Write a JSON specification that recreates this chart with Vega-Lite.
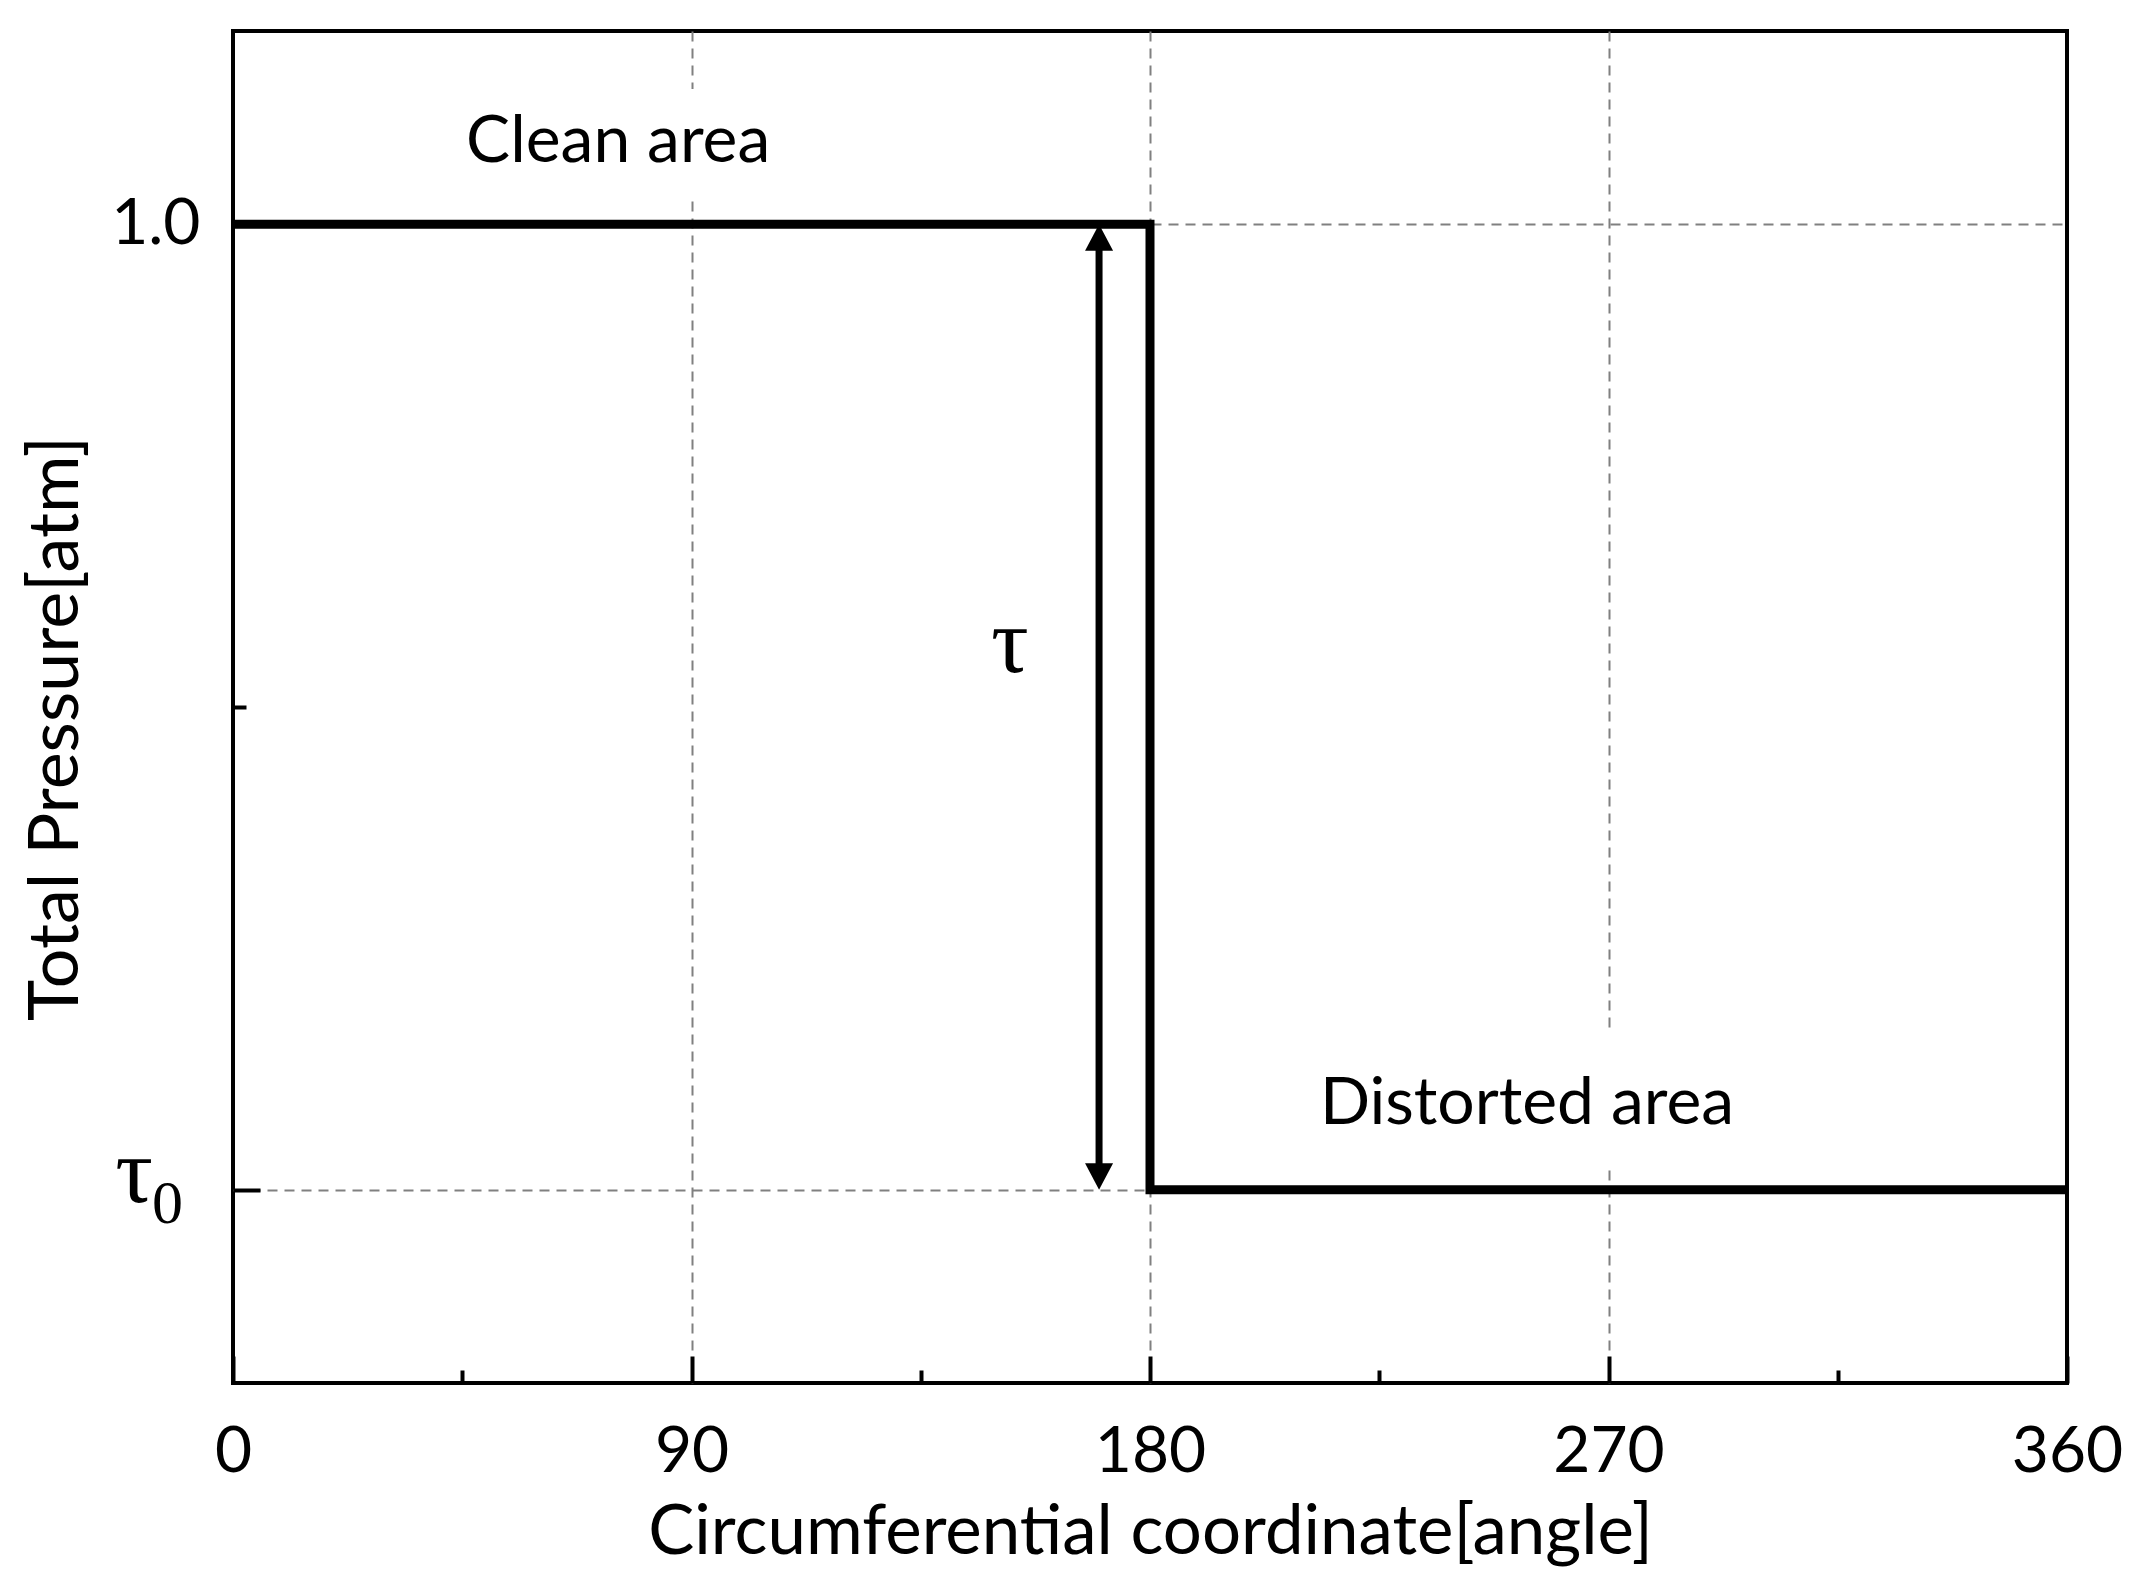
{
  "$schema": "https://vega.github.io/schema/vega-lite/v6.json",
  "width": 1834,
  "height": 1352,
  "autosize": {"type": "none"},
  "padding": {"left": 233, "top": 31, "right": 79, "bottom": 197},
  "background": "white",
  "config": {
    "font": "Lato",
    "view": {"stroke": "black", "strokeWidth": 4}
  },
  "datasets": {
    "profile": [
      {"angle": 0, "pressure": 1.0, "i": 0},
      {"angle": 180, "pressure": 1.0, "i": 1},
      {"angle": 180, "pressure": 0.5, "i": 2},
      {"angle": 360, "pressure": 0.5, "i": 3}
    ],
    "boxes": [
      {"a1": 45, "a2": 152, "p1": 1.012, "p2": 1.07},
      {"a1": 213, "a2": 295, "p1": 0.512, "p2": 0.582}
    ],
    "labels": [
      {"angle": 75.6, "pressure": 1.032, "text": "Clean area"},
      {"angle": 254, "pressure": 0.534, "text": "Distorted area"}
    ],
    "arrow": [{"angle": 170, "top": 1.0, "bottom": 0.5, "s1": 0.988, "s2": 0.512}],
    "tau": [{"angle": 152.5, "pressure": 0.768, "text": "τ"}],
    "tau0": [{"angle": 0, "pressure": 0.5, "t": "τ", "sub": "0"}]
  },
  "layer": [
    {
      "data": {"name": "boxes"},
      "mark": {"type": "rect", "color": "white"},
      "encoding": {
        "x": {
          "field": "a1", "type": "quantitative",
          "scale": {"domain": [0, 360], "nice": false, "zero": false},
          "axis": {
            "values": [0, 45, 90, 135, 180, 225, 270, 315, 360],
            "labelExpr": "datum.value % 90 == 0 ? datum.label : ''",
            "domain": false,
            "tickColor": "black",
            "tickWidth": 4,
            "tickSize": {"condition": {"test": "datum.value % 90 == 0", "value": -27}, "value": -13},
            "grid": true,
            "gridColor": "#808080",
            "gridWidth": 2,
            "gridDash": [10, 7],
            "gridOpacity": {"condition": {"test": "datum.value % 90 == 0 && datum.value > 0 && datum.value < 360", "value": 1}, "value": 0},
            "labelFontSize": 64,
            "labelColor": "black",
            "labelPadding": 64,
            "labelFlush": false,
            "labelOverlap": false,
            "title": "Circumferential coordinate[angle]",
            "titleFontSize": 69,
            "titleFontWeight": "normal",
            "titleColor": "black",
            "titlePadding": 0
          }
        },
        "x2": {"field": "a2"},
        "y": {
          "field": "p1", "type": "quantitative",
          "scale": {"domain": [0.4, 1.1], "nice": false, "zero": false},
          "axis": {
            "values": [0.5, 0.75, 1.0],
            "labelExpr": "datum.value == 1 ? '1.0' : ''",
            "domain": false,
            "tickColor": "black",
            "tickWidth": 4,
            "tickSize": {"condition": {"test": "datum.value == 0.75", "value": -13}, "value": -27},
            "grid": true,
            "gridColor": "#808080",
            "gridWidth": 2,
            "gridDash": [10, 7],
            "gridOpacity": {"condition": {"test": "datum.value == 0.75", "value": 0}, "value": 1},
            "labelFontSize": 64,
            "labelColor": "black",
            "labelPadding": 60,
            "labelOverlap": false,
            "title": "Total Pressure[atm]",
            "titleFontSize": 70,
            "titleFontWeight": "normal",
            "titleColor": "black",
            "titlePadding": 18,
            "titleY": 697
          }
        },
        "y2": {"field": "p2"}
      }
    },
    {
      "data": {"name": "profile"},
      "mark": {"type": "line", "color": "black", "strokeWidth": 9, "strokeJoin": "miter", "clip": true},
      "encoding": {
        "x": {"field": "angle", "type": "quantitative"},
        "y": {"field": "pressure", "type": "quantitative"},
        "order": {"field": "i", "type": "quantitative"}
      }
    },
    {
      "data": {"name": "arrow"},
      "mark": {"type": "rule", "color": "black", "strokeWidth": 7},
      "encoding": {
        "x": {"field": "angle", "type": "quantitative"},
        "y": {"field": "s1", "type": "quantitative"},
        "y2": {"field": "s2"}
      }
    },
    {
      "data": {"name": "arrow"},
      "mark": {"type": "point", "shape": "M0,0L-1,1.9L1,1.9Z", "filled": true, "color": "black", "opacity": 1, "size": 784, "strokeWidth": 0},
      "encoding": {
        "x": {"field": "angle", "type": "quantitative"},
        "y": {"field": "top", "type": "quantitative"}
      }
    },
    {
      "data": {"name": "arrow"},
      "mark": {"type": "point", "shape": "M0,0L-1,-1.9L1,-1.9Z", "filled": true, "color": "black", "opacity": 1, "size": 784, "strokeWidth": 0},
      "encoding": {
        "x": {"field": "angle", "type": "quantitative"},
        "y": {"field": "bottom", "type": "quantitative"}
      }
    },
    {
      "data": {"name": "labels"},
      "mark": {"type": "text", "font": "Lato", "fontSize": 66, "color": "black", "align": "center", "baseline": "alphabetic"},
      "encoding": {
        "x": {"field": "angle", "type": "quantitative"},
        "y": {"field": "pressure", "type": "quantitative"},
        "text": {"field": "text"}
      }
    },
    {
      "data": {"name": "tau"},
      "mark": {"type": "text", "font": "Liberation Serif", "fontSize": 94, "color": "black", "align": "center", "baseline": "alphabetic"},
      "encoding": {
        "x": {"field": "angle", "type": "quantitative"},
        "y": {"field": "pressure", "type": "quantitative"},
        "text": {"field": "text"}
      }
    },
    {
      "data": {"name": "tau0"},
      "mark": {"type": "text", "font": "Liberation Serif", "fontSize": 94, "color": "black", "align": "right", "baseline": "alphabetic", "dx": -80, "dy": 12, "clip": false},
      "encoding": {
        "x": {"field": "angle", "type": "quantitative"},
        "y": {"field": "pressure", "type": "quantitative"},
        "text": {"field": "t"}
      }
    },
    {
      "data": {"name": "tau0"},
      "mark": {"type": "text", "font": "Liberation Serif", "fontSize": 62, "color": "black", "align": "right", "baseline": "alphabetic", "dx": -50, "dy": 33, "clip": false},
      "encoding": {
        "x": {"field": "angle", "type": "quantitative"},
        "y": {"field": "pressure", "type": "quantitative"},
        "text": {"field": "sub"}
      }
    }
  ]
}
